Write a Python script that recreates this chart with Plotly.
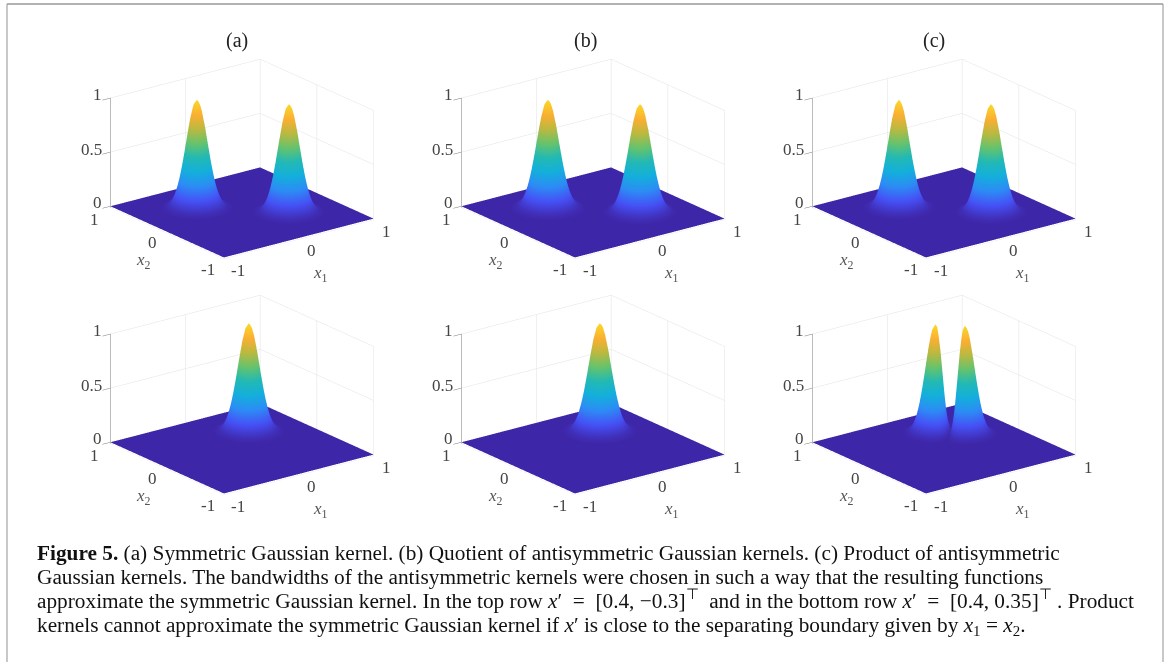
import numpy as np
import plotly.graph_objects as go

W, H = 1170, 662

# Height of a bump versus distance from its centre (steps of 0.025)
offsets_step = 0.025
profile_a = [1.0, .977, .910, .808, .685, .554, .427, .314, .220, .147, .094, .057, .033, .018, .0097, .0049, .0024, .0011, 0]
profile_b = [1.0, .979, .917, .823, .707, .581, .458, .345, .249, .172, .114, .072, .044, .026, .014, .0076, .0039, .0019, 0]
profile_n = [1.0, .972, .891, .771, .63, .486, .353, .243, .157, .096, .056, .030, .016, .0076, .0035, .0015, .0006, .0002, 0]
# Damping versus |x1 - x2| for the product kernel in the bottom-right panel (no damping in the others)
valley_none = [1.0]
valley_c = [0.0, .12, .25, .42, .6, .75, .87, .95, 1.0]

# Peak locations (x1, x2, height) per panel
peaks_a_top = [(0.4, -0.3, 1.0), (-0.3, 0.4, 1.0)]
peaks_b_top = [(0.4, -0.3, 1.0), (-0.3, 0.4, 1.0)]
peaks_c_top = [(0.4, -0.3, 1.0), (-0.3, 0.4, 1.0)]
peaks_a_bot = [(0.375, 0.375, 1.0)]
peaks_b_bot = [(0.375, 0.375, 1.0)]
peaks_c_bot = [(0.225, 0.45, 1.0), (0.45, 0.225, 1.0)]

grid_axis = [round(-1 + i * offsets_step, 3) for i in range(81)]
ticks_xy = [-1, 0, 1]
ticks_z = [0, 0.5, 1]
column_titles = ["(a)", "(b)", "(c)"]

NB = "\u00a0"
caption_lines = [
    "<b>Figure 5.</b> (a) Symmetric Gaussian kernel. (b) Quotient of antisymmetric Gaussian kernels. (c) Product of antisymmetric",
    "Gaussian kernels. The bandwidths of the antisymmetric kernels were chosen in such a way that the resulting functions",
    f"approximate the symmetric Gaussian kernel. In the top row <i>x</i>′{NB} ={NB} [0.4, −0.3]<sup>⊤</sup>{NB} and in the bottom row <i>x</i>′{NB} ={NB} [0.4, 0.35]<sup>⊤</sup>{NB}. Product",
    "kernels cannot approximate the symmetric Gaussian kernel if <i>x</i>′ is close to the separating boundary given by <i>x</i><sub>1</sub> = <i>x</i><sub>2</sub>.",
]

parula = [
    [0.0, "rgb(62,38,168)"], [0.125, "rgb(70,80,245)"], [0.25, "rgb(45,140,245)"],
    [0.375, "rgb(20,175,220)"], [0.5, "rgb(35,185,180)"], [0.625, "rgb(100,195,110)"],
    [0.75, "rgb(185,185,65)"], [0.875, "rgb(250,175,50)"], [1.0, "rgb(250,215,40)"],
]

def surface_z(peaks, profile, valley):
    ax = np.array(grid_axis)
    z = np.zeros((len(ax), len(ax)))
    table = np.array(profile)
    for px, py, h in peaks:
        ix = np.clip(np.round(np.abs(ax - px) / offsets_step).astype(int), 0, len(table) - 1)
        iy = np.clip(np.round(np.abs(ax - py) / offsets_step).astype(int), 0, len(table) - 1)
        z = np.maximum(z, h * np.outer(table[iy], table[ix]))
    gap = np.abs(ax[:, None] - ax[None, :])
    damp = np.array(valley)[np.clip(np.round(gap / offsets_step).astype(int), 0, len(valley) - 1)]
    return z * damp

panels = [
    (peaks_a_top, profile_a, valley_none, 241.5, 158.5), (peaks_b_top, profile_b, valley_none, 593, 158.5),
    (peaks_c_top, profile_a, valley_none, 944, 158.5), (peaks_a_bot, profile_a, valley_none, 241.5, 394.5),
    (peaks_b_bot, profile_b, valley_none, 593, 394.5), (peaks_c_bot, profile_n, valley_c, 944, 394.5),
]

fig = go.Figure()
DW, DH = 340, 232
SCALE = 1.62
TICK = dict(family="Liberation Serif", size=17, color="#444444")
MATH = dict(family="Liberation Serif", size=17, color="#555555")

def label(x, y, z, text, dx, dy, font, anchor="center"):
    return dict(x=x, y=y, z=z, text=text, showarrow=False, xshift=dx, yshift=dy, font=font,
                xanchor=anchor, yanchor="middle")

def axis(vals, rng, line):
    return dict(range=rng, tickvals=vals, showticklabels=False, title=dict(text=""),
                showgrid=True, gridcolor="#e2e2e2", gridwidth=1,
                showbackground=False, zeroline=False, showline=line, linecolor="#777777",
                ticks="outside" if line else "", ticklen=3, tickcolor="#777777", showspikes=False, autorange=False)

for i, (peaks, prof, valley, cx, cy) in enumerate(panels):
    sid = "scene" if i == 0 else f"scene{i+1}"
    fig.add_trace(go.Surface(x=grid_axis, y=grid_axis, z=surface_z(peaks, prof, valley), scene=sid,
                             colorscale=parula, cmin=0, cmax=1, showscale=False, hoverinfo="skip",
                             lighting=dict(ambient=1, diffuse=0, specular=0, roughness=1, fresnel=0)))
    notes = []
    for v, dy in zip(ticks_z, [3, 2, 3]):
        notes.append(label(-1, 1, v, f"{v:g}", -6, dy, TICK, "right"))
    for v, dx, dy in zip(ticks_xy, [-15, -14, -15], [-12, -11, -14]):
        notes.append(label(-1, v, 0, f"{v:g}", dx, dy, TICK))
    for v, dx in zip(ticks_xy, [15, 13, 13]):
        notes.append(label(v, -1, 0, f"{v:g}", dx, -13, TICK))
    notes.append(label(-1, 0, 0, "<i>x</i><sub>2</sub>", -23, -30, MATH))
    notes.append(label(0, -1, 0, "<i>x</i><sub>1</sub>", 22, -36, MATH))
    fig.layout[sid] = dict(
        domain=dict(x=[(cx - DW / 2) / W, (cx + DW / 2) / W], y=[1 - (cy + DH / 2) / H, 1 - (cy - DH / 2) / H]),
        xaxis=axis(ticks_xy, [-1, 1], False),
        yaxis=axis(ticks_xy, [-1, 1], False),
        zaxis=axis(ticks_z, [-0.012, 1], True),
        aspectmode="manual", aspectratio=dict(x=SCALE, y=SCALE, z=0.62 * SCALE),
        camera=dict(eye=dict(x=-0.568 * 1.9, y=-0.749 * 1.9, z=0.3425 * 1.9),
                    center=dict(x=0, y=0, z=0), up=dict(x=0, y=0, z=1),
                    projection=dict(type="orthographic")),
        bgcolor="white",
        annotations=notes,
    )

for t, cx in zip(column_titles, [237, 585, 934]):
    fig.add_annotation(text=t, x=cx / W, y=1 - 41 / H, xref="paper", yref="paper", showarrow=False,
                       xanchor="center", yanchor="middle", font=dict(family="Liberation Serif", size=20, color="#222222"))
for ln, py in zip(caption_lines, [553, 577, 599.5, 626]):
    fig.add_annotation(text=ln, x=35 / W, y=1 - py / H, xref="paper", yref="paper", showarrow=False,
                       xanchor="left", yanchor="middle", align="left",
                       font=dict(family="Liberation Serif", size=21.3, color="#111111"))

frame = [(7, 4, 7, H, "#c8c8c8", 2), (1163, 4, 1163, H, "#c8c8c8", 2), (7, 4, 1163, 4, "#999999", 1.5)]
for x0, y0, x1, y1, c, w in frame:
    fig.add_shape(type="line", xref="paper", yref="paper", x0=x0 / W, x1=x1 / W, y0=1 - y0 / H, y1=1 - y1 / H,
                  line=dict(color=c, width=w))

fig.update_layout(width=W, height=H, margin=dict(l=0, r=0, t=0, b=0), paper_bgcolor="white", plot_bgcolor="white",
                  showlegend=False)
fig.write_html("out.html", config={"displayModeBar": False}, post_script="document.body.style.margin='0';")
